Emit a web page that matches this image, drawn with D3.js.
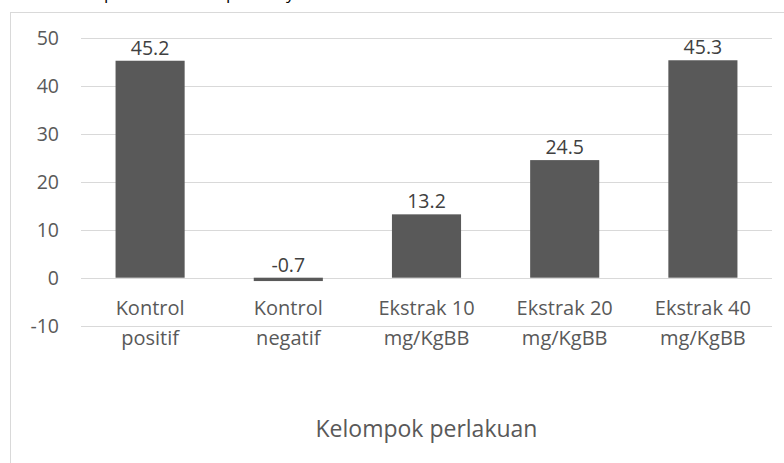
<!DOCTYPE html>
<html>
<head>
<meta charset="utf-8">
<script src="https://cdn.jsdelivr.net/npm/d3@7"></script>
<style>
  html, body { margin: 0; padding: 0; background: #fff; }
  svg { display: block; }
  text { font-family: "Open Sans", "Noto Sans", sans-serif; }
</style>
</head>
<body>
<svg id="chart" width="784" height="463"></svg>
<script>
// Treatment groups (two-line category labels) and their values
const categories = [
  ["Kontrol", "positif"],
  ["Kontrol", "negatif"],
  ["Ekstrak 10", "mg/KgBB"],
  ["Ekstrak 20", "mg/KgBB"],
  ["Ekstrak 40", "mg/KgBB"]
];
const values = [45.2, -0.7, 13.2, 24.5, 45.3];
const yTicks = [-10, 0, 10, 20, 30, 40, 50];
const xTitle = "Kelompok perlakuan";

const svg = d3.select("#chart");
const W = 784, H = 463;
const plotLeft = 81, plotRight = 772, plotTop = 37.7, plotBottom = 325.7;

// Number formatting with a plain hyphen for negatives
const loc = d3.formatLocale({decimal: ".", thousands: ",", grouping: [3], currency: ["", ""], minus: "-"});
const fmtVal = loc.format(".1f");
const fmtTick = loc.format("d");

// Caption line above the chart frame (only its descenders fall inside the page)
svg.append("text")
  .attr("x", 0).attr("y", 0)
  .attr("font-family", "'Liberation Serif', serif")
  .attr("font-size", 17).attr("fill", "#000")
  .selectAll("tspan")
  .data([{x: 104, t: "p"}, {x: 226, t: "p"}, {x: 286, t: "y"}])
  .join("tspan").attr("x", d => d.x).attr("y", -1).text(d => d.t);

// Chart frame
svg.append("rect")
  .attr("x", 10.5).attr("y", 12.5)
  .attr("width", W + 20).attr("height", H + 20)
  .attr("fill", "none").attr("stroke", "#d9d9d9").attr("stroke-width", 1);

const x = d3.scaleBand()
  .domain(d3.range(categories.length))
  .range([plotLeft, plotRight])
  .paddingInner(0.5).paddingOuter(0.25);

const y = d3.scaleLinear().domain([-10, 50]).range([plotBottom, plotTop]);

// Horizontal gridlines
svg.append("g")
  .selectAll("line")
  .data(yTicks)
  .join("line")
  .attr("x1", plotLeft).attr("x2", plotRight)
  .attr("y1", d => Math.round(y(d)) + 0.5)
  .attr("y2", d => Math.round(y(d)) + 0.5)
  .attr("stroke", "#d9d9d9").attr("stroke-width", 1);

// Y axis labels
const yAxis = d3.axisLeft(y).tickValues(yTicks).tickFormat(fmtTick).tickSize(0).tickPadding(0);
const gy = svg.append("g").attr("transform", `translate(59,0)`).call(yAxis);
gy.select(".domain").remove();
gy.selectAll("text")
  .attr("font-family", "'Open Sans', sans-serif")
  .attr("font-size", 19.5).attr("fill", "#595959")
  .attr("dy", "0.35em");

// Bars
svg.append("g")
  .selectAll("rect")
  .data(values)
  .join("rect")
  .attr("x", (d, i) => x(i))
  .attr("width", x.bandwidth())
  .attr("y", d => y(Math.max(0, d)))
  .attr("height", d => Math.abs(y(d) - y(0)))
  .attr("fill", "#595959");

// Value labels above each bar
svg.append("g")
  .selectAll("text")
  .data(values)
  .join("text")
  .attr("x", (d, i) => x(i) + x.bandwidth() / 2)
  .attr("y", d => y(Math.max(0, d)) - 6)
  .attr("text-anchor", "middle")
  .attr("font-size", 19.5).attr("fill", "#404040")
  .text(d => fmtVal(d));

// Category labels
const cat = svg.append("g")
  .selectAll("text")
  .data(categories)
  .join("text")
  .attr("text-anchor", "middle")
  .attr("font-size", 20).attr("fill", "#595959");
cat.selectAll("tspan")
  .data((d, i) => d.map((t, k) => ({t, k, i})))
  .join("tspan")
  .attr("x", d => x(d.i) + x.bandwidth() / 2)
  .attr("y", d => 315 + d.k * 29.5)
  .text(d => d.t);

// Axis title
svg.append("text")
  .attr("x", (plotLeft + plotRight) / 2).attr("y", 437)
  .attr("text-anchor", "middle")
  .attr("font-size", 23).attr("fill", "#595959")
  .text(xTitle);
</script>
</body>
</html>
